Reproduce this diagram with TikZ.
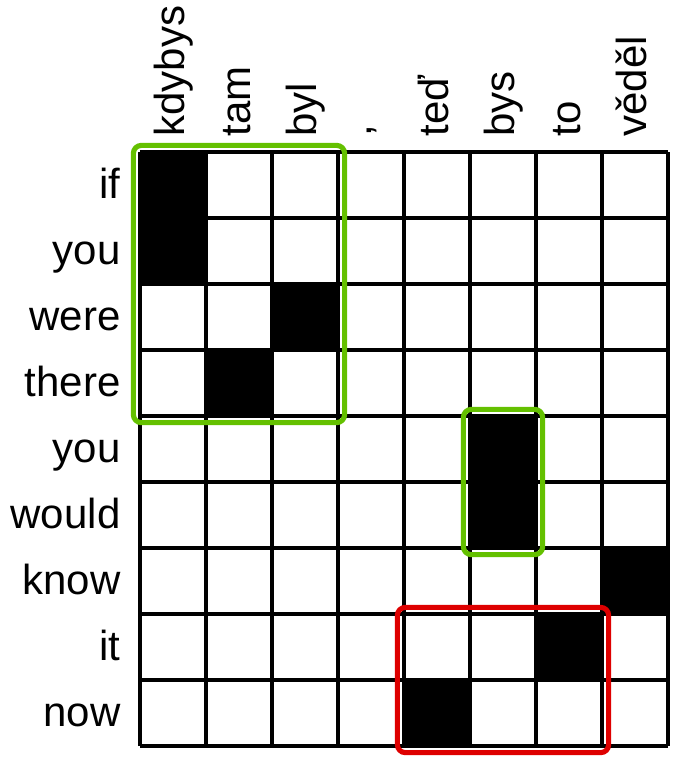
\documentclass[tikz,border=0pt]{standalone}
\usepackage{fontspec}
\setmainfont{Liberation Sans}
\usetikzlibrary{positioning,calc}
\definecolor{phraseGreen}{RGB}{100,192,0}
\definecolor{phraseRed}{RGB}{222,0,0}
\tikzset{
    gridline/.style={line width=1.6pt, black},
    link/.style={fill=black},
    srcword/.style={rotate=90, anchor=base west, inner sep=0pt, font=\fontsize{18.1}{22}\selectfont},
    tgtword/.style={anchor=base east, inner sep=0pt, font=\fontsize{18.1}{22}\selectfont},
    phrase/.style={line width=2.2pt, rounded corners=3.4pt}
}

\begin{document}
\begin{tikzpicture}[x=1cm, y=1cm]
\useasboundingbox (-2.121,2.303) rectangle (8.47,-9.227);

% alignment links
\foreach \c/\r in {0/0, 0/1, 2/2, 1/3, 5/4, 5/5, 7/6, 6/7, 4/8}
    \fill[link] (\c,-\r) rectangle ++(1,-1);
\draw[gridline] (0,0) grid (8,-9);

% source words (Czech)
\foreach \w/\dx [count=\i from 0] in {kdybys/0, tam/0, byl/0, {,}/-0.17, teď/0, bys/0, to/0, věděl/0}
    \node[srcword] (src\i) at (\i+0.675+\dx,0.23) {\w};

% target words (English)
\foreach \w [count=\j from 0] in {if, you, were, there, you, would, know, it, now}
    \node[tgtword] (tgt\j) at (-0.29,-\j-0.7) {\w};

% phrase pairs
\draw[phrase, phraseGreen] (-0.1,0.1) rectangle (3.1,-4.1);
\draw[phrase, phraseGreen] (4.9,-3.9) rectangle (6.1,-6.1);
\draw[phrase, phraseRed] (3.9,-6.9) rectangle (7.1,-9.1);
\end{tikzpicture}
\end{document}
